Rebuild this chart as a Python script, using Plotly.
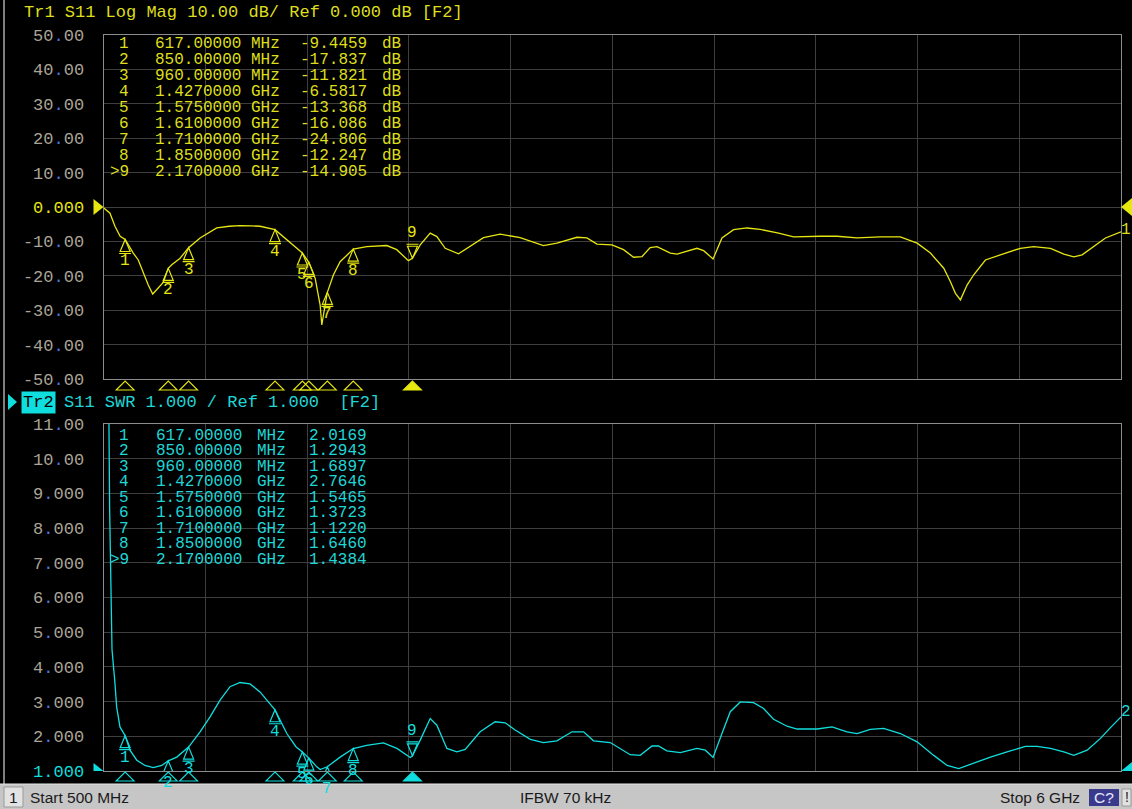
import plotly.graph_objects as go

W, H = 1132, 809

# ---------------- data ----------------
freq_db = [500, 535, 562, 590, 617, 661, 688, 715, 742, 766, 796, 823, 850, 869, 914, 960,
           1022, 1112, 1180, 1238, 1300, 1346, 1427, 1491, 1540, 1575, 1610, 1644, 1671, 1680,
           1698, 1710, 1743, 1779, 1850, 1923, 2031, 2085, 2148, 2170, 2212, 2266, 2302, 2347,
           2419, 2482, 2554, 2644, 2752, 2878, 2951, 3059, 3113, 3167, 3248, 3311, 3365, 3411,
           3455, 3492, 3564, 3600, 3654, 3708, 3744, 3795, 3843, 3906, 3978, 4050, 4149, 4230,
           4374, 4465, 4573, 4699, 4807, 4898, 4970, 5042, 5078, 5105, 5132, 5168, 5204, 5267,
           5348, 5456, 5528, 5619, 5691, 5745, 5790, 5853, 5916, 6000]
s11_db = [-0.2, -1.8, -5.6, -8.5, -9.45, -13.4, -15.4, -19.2, -22.7, -25.3, -23.6, -21.9, -17.84,
          -16.8, -14.9, -11.82, -9.0, -6.1, -5.6, -5.4, -5.5, -5.6, -6.58, -9.5, -12.0, -13.37,
          -16.09, -20.7, -28.5, -34.3, -28.5, -24.8, -19.7, -15.9, -12.25, -11.5, -11.2, -12.4,
          -15.6, -14.9, -11.0, -7.6, -8.6, -12.0, -13.6, -11.5, -8.9, -7.9, -8.9, -11.2, -10.5,
          -8.8, -9.0, -10.8, -11.0, -12.4, -14.6, -14.4, -11.8, -11.5, -13.4, -13.7, -12.9, -12.0,
          -12.7, -15.1, -9.0, -6.6, -6.1, -6.5, -7.6, -8.7, -8.5, -8.5, -9.0, -8.7, -8.7, -10.5,
          -13.4, -17.8, -21.7, -25.1, -27.0, -22.7, -19.7, -15.4, -13.9, -12.0, -11.5, -12.0,
          -13.7, -14.5, -13.9, -11.5, -9.0, -7.2]

freq_swr = [500, 528, 533, 539, 546, 562, 571, 589, 617, 643, 680, 724, 769, 815, 850, 896, 960,
            1022, 1076, 1130, 1184, 1238, 1292, 1346, 1400, 1427, 1491, 1540, 1575, 1610, 1653,
            1671, 1710, 1779, 1850, 1923, 2013, 2086, 2158, 2170, 2212, 2266, 2302, 2356, 2410,
            2455, 2536, 2617, 2671, 2725, 2807, 2878, 2951, 3032, 3095, 3149, 3239, 3347, 3401,
            3465, 3500, 3545, 3618, 3708, 3753, 3795, 3843, 3888, 3942, 4014, 4068, 4122, 4195,
            4249, 4357, 4438, 4519, 4573, 4645, 4717, 4807, 4898, 4988, 5060, 5123, 5204, 5294,
            5384, 5483, 5546, 5619, 5691, 5745, 5817, 5889, 5943, 6000]
s11_swr = [20.0, 12.0, 8.6, 6.1, 4.5, 3.53, 2.85, 2.27, 2.017, 1.60, 1.31, 1.16, 1.10, 1.16, 1.294,
           1.40, 1.69, 2.13, 2.56, 3.04, 3.43, 3.55, 3.51, 3.28, 2.95, 2.76, 2.08, 1.70, 1.547,
           1.372, 1.12, 1.04, 1.122, 1.40, 1.646, 1.74, 1.81, 1.65, 1.39, 1.438, 1.89, 2.51, 2.32,
           1.65, 1.55, 1.62, 2.13, 2.42, 2.39, 2.18, 1.91, 1.82, 1.87, 2.13, 2.13, 1.87, 1.82,
           1.47, 1.45, 1.72, 1.72, 1.58, 1.53, 1.65, 1.60, 1.39, 2.08, 2.71, 2.99, 2.97, 2.80,
           2.49, 2.29, 2.21, 2.21, 2.27, 2.13, 2.08, 2.20, 2.23, 2.08, 1.84, 1.45, 1.16, 1.07,
           1.23, 1.40, 1.55, 1.71, 1.71, 1.65, 1.55, 1.45, 1.60, 1.94, 2.25, 2.56]

marker_ids = ["1", "2", "3", "4", "5", "6", "7", "8", "9"]
marker_freq = [617, 850, 960, 1427, 1575, 1610, 1710, 1850, 2170]
marker_freq_text = ["617.00000", "850.00000", "960.00000", "1.4270000", "1.5750000",
                    "1.6100000", "1.7100000", "1.8500000", "2.1700000"]
marker_unit = ["MHz", "MHz", "MHz", "GHz", "GHz", "GHz", "GHz", "GHz", "GHz"]
marker_db = [-9.4459, -17.837, -11.821, -6.5817, -13.368, -16.086, -24.806, -12.247, -14.905]
marker_swr = [2.0169, 1.2943, 1.6897, 2.7646, 1.5465, 1.3723, 1.1220, 1.6460, 1.4384]
active_marker = "9"

db_ticks = [50, 40, 30, 20, 10, 0, -10, -20, -30, -40, -50]
swr_ticks = [11, 10, 9, 8, 7, 6, 5, 4, 3, 2, 1]

# ---------------- style ----------------
YEL = "#e6e610"
YEL_T = "#dede1a"
CYA = "#10dede"
CYA_T = "#1fd6d6"
GRID = "#3e3e3e"
FRAME = "#8c8c8c"
TICK = "#aba496"
DOT = "#4a78e0"
MONO = "Liberation Mono"
NB = "\u00a0"

def px(x):
    return x / W

def py(y):
    return 1 - y / H

def dotted(s, col=None):
    if col:
        return f"<span style='color:{col}'>{s}</span>"
    return s.replace(".", f"<span style='color:{DOT}'>.</span>")

db_ticktext = [dotted("0.000", YEL) if v == 0 else dotted(f"{v:.2f}") for v in db_ticks]
swr_ticktext = [dotted("1.000", CYA) if v == 1 else dotted(f"{v:.2f}" if v >= 10 else f"{v:.3f}")
                for v in swr_ticks]

X0, X1 = 103.5, 1121
TOP_Y0, TOP_Y1 = 35, 379
BOT_Y0, BOT_Y1 = 424, 771

fig = go.Figure()
fig.add_trace(go.Scatter(x=freq_db, y=s11_db, xaxis="x", yaxis="y", mode="lines",
                         line=dict(color=YEL, width=1.3), hoverinfo="skip", showlegend=False))
fig.add_trace(go.Scatter(x=freq_swr, y=s11_swr, xaxis="x2", yaxis="y2", mode="lines",
                         line=dict(color=CYA, width=1.3), hoverinfo="skip", showlegend=False))

xcommon = dict(range=[500, 6000], tick0=500, dtick=550, showticklabels=False, showgrid=True,
               gridcolor=GRID, gridwidth=1, zeroline=False, showline=True, mirror=True,
               linecolor=FRAME, linewidth=1, ticks="", domain=[px(X0), px(X1)], fixedrange=True,
               automargin=False)
ycommon = dict(tickmode="array", showgrid=True, gridcolor=GRID, gridwidth=1, zeroline=False,
               showline=True, mirror=True, linecolor=FRAME, linewidth=1, ticks="",
               tickfont=dict(family=MONO, size=17, color=TICK), ticklabelstandoff=15,
               fixedrange=True, automargin=False)

fig.update_layout(
    width=W, height=H, margin=dict(l=0, r=0, t=0, b=0, pad=0, autoexpand=False),
    paper_bgcolor="black", plot_bgcolor="black", showlegend=False,
    xaxis=dict(anchor="y", **xcommon),
    yaxis=dict(anchor="x", range=[-50, 50], tickvals=db_ticks, ticktext=db_ticktext,
               domain=[py(TOP_Y1), py(TOP_Y0)], **ycommon),
    xaxis2=dict(anchor="y2", **xcommon),
    yaxis2=dict(anchor="x2", range=[1, 11], tickvals=swr_ticks, ticktext=swr_ticktext,
                domain=[py(BOT_Y1), py(BOT_Y0)], **ycommon),
)

ann = []
shapes = []

def text(x, y, s, color, size=17, xanchor="left", family=MONO, **kw):
    ann.append(dict(x=px(x), y=py(y), xref="paper", yref="paper", text=s.replace(" ", NB),
                    showarrow=False, xanchor=xanchor, yanchor="middle",
                    font=dict(family=family, size=size, color=color), **kw))

# headers
text(22, 12, "Tr1 S11 Log Mag 10.00 dB/ Ref 0.000 dB [F2]", YEL_T)
text(20.5, 402, "Tr2", "black", bgcolor=CYA, borderpad=1)
text(62, 402, "S11 SWR 1.000 / Ref 1.000  [F2]", CYA_T)
shapes.append(dict(type="path", xref="paper", yref="paper", path=
                   f"M {px(8)},{py(394)} L {px(17)},{py(402)} L {px(8)},{py(410)} Z",
                   fillcolor=CYA, line=dict(width=0)))

# marker tables
TS = 16
for i, mid in enumerate(marker_ids):
    lab = (">" + mid) if mid == active_marker else mid
    yt = 44.3 + i * 15.92
    text(131, yt, lab, YEL_T, size=TS, xanchor="right")
    text(153, yt, marker_freq_text[i], YEL_T, size=TS)
    text(249, yt, marker_unit[i], YEL_T, size=TS)
    text(369, yt, f"{marker_db[i]:.5g}", YEL_T, size=TS, xanchor="right")
    text(380, yt, "dB", YEL_T, size=TS)
    yb = 435.7 + i * 15.5
    text(131, yb, lab, CYA_T, size=TS, xanchor="right")
    text(154, yb, marker_freq_text[i], CYA_T, size=TS)
    text(255, yb, marker_unit[i], CYA_T, size=TS)
    text(369, yb, f"{marker_swr[i]:.4f}", CYA_T, size=TS, xanchor="right")

# on-trace markers
UP = "M0,0 L-5,-12 L5,-12 Z M-6,-14 L6,-14"
DOWN = "M0,0 L-5,12 L5,12 Z M-6,14 L6,14"
for i, mid in enumerate(marker_ids):
    for (xr, yr, val, col) in (("x", "y", marker_db[i], YEL), ("x2", "y2", marker_swr[i], CYA)):
        act = mid == active_marker
        shapes.append(dict(type="path", xref=xr, yref=yr, xsizemode="pixel", ysizemode="pixel",
                           xanchor=marker_freq[i], yanchor=val, path=DOWN if act else UP,
                           line=dict(color=col, width=1.2)))
        ann.append(dict(x=marker_freq[i], y=val, xref=xr, yref=yr, text=mid, showarrow=False,
                        xanchor="center", yanchor="middle", yshift=25 if act else -22,
                        font=dict(family=MONO, size=16, color=col)))

# stimulus triangles below each plot
for i, mid in enumerate(marker_ids):
    act = mid == active_marker
    for (xr, ybase, col) in (("x", 390, YEL), ("x2", 781, CYA)):
        shapes.append(dict(type="path", xref=xr, yref="paper", xsizemode="pixel",
                           ysizemode="pixel", xanchor=marker_freq[i], yanchor=py(ybase),
                           path="M-9,0 L0,9 L9,0 Z",
                           fillcolor=col if act else "rgba(0,0,0,0)",
                           line=dict(color=col, width=1.1)))

# reference level arrows
for (ref, yr, col) in ((0, "y", YEL), (1, "y2", CYA)):
    shapes.append(dict(type="path", xref="paper", yref=yr, xsizemode="pixel", ysizemode="pixel",
                       xanchor=px(X0), yanchor=ref, path="M-10,8 L0,0 L-10,-8 Z",
                       fillcolor=col, line=dict(width=0)))
    shapes.append(dict(type="path", xref="paper", yref=yr, xsizemode="pixel", ysizemode="pixel",
                       xanchor=px(X1), yanchor=ref, path="M11,9 L0,0 L11,-9 Z",
                       fillcolor=col, line=dict(width=0)))
text(1125.5, 230, "1", YEL_T, size=16, xanchor="center")
text(1125.5, 712, "2", CYA_T, size=16, xanchor="center")

# window border and status bar
shapes.append(dict(type="line", xref="paper", yref="paper", x0=px(4), x1=px(4), y0=py(0),
                   y1=py(784), line=dict(color="#a8a8a8", width=1.5)))
shapes.append(dict(type="rect", xref="paper", yref="paper", x0=0, x1=1, y0=0, y1=py(784),
                   fillcolor="#c6c6c6", line=dict(width=0)))
shapes.append(dict(type="line", xref="paper", yref="paper", x0=0, x1=1, y0=py(784), y1=py(784),
                   line=dict(color="#e6e6e6", width=1)))
shapes.append(dict(type="rect", xref="paper", yref="paper", x0=px(4), x1=px(23), y0=py(807),
                   y1=py(787), fillcolor="#e2e2e2", line=dict(color="#9a9a9a", width=1)))
shapes.append(dict(type="rect", xref="paper", yref="paper", x0=px(1089), x1=px(1119),
                   y0=py(806), y1=py(789), fillcolor="#3a3a8c", line=dict(width=0)))
shapes.append(dict(type="rect", xref="paper", yref="paper", x0=px(1122), x1=px(1131),
                   y0=py(806), y1=py(789), fillcolor="#e2e2e2", line=dict(color="#9a9a9a", width=1)))
SANS = "Liberation Sans"
text(13.5, 797, "1", "#1a1a1a", size=15.5, xanchor="center", family=SANS)
text(28, 797, "Start 500 MHz", "#1a1a1a", size=15.5, family=SANS)
text(565, 797, "IFBW 70 kHz", "#1a1a1a", size=15.5, xanchor="center", family=SANS)
text(1082, 797, "Stop 6 GHz", "#1a1a1a", size=15.5, xanchor="right", family=SANS)
text(1104, 797, "C?", "#e8e8ff", size=15.5, xanchor="center", family=SANS)
text(1126.5, 797, "!", "#1a1a1a", size=14, xanchor="center", family=SANS)

fig.update_layout(annotations=ann, shapes=shapes)
fig.write_html("out.html", config={"displayModeBar": False, "staticPlot": True},
               post_script="document.body.style.margin='0';"
                           "document.body.style.overflow='hidden';"
                           "document.documentElement.style.overflow='hidden';")
